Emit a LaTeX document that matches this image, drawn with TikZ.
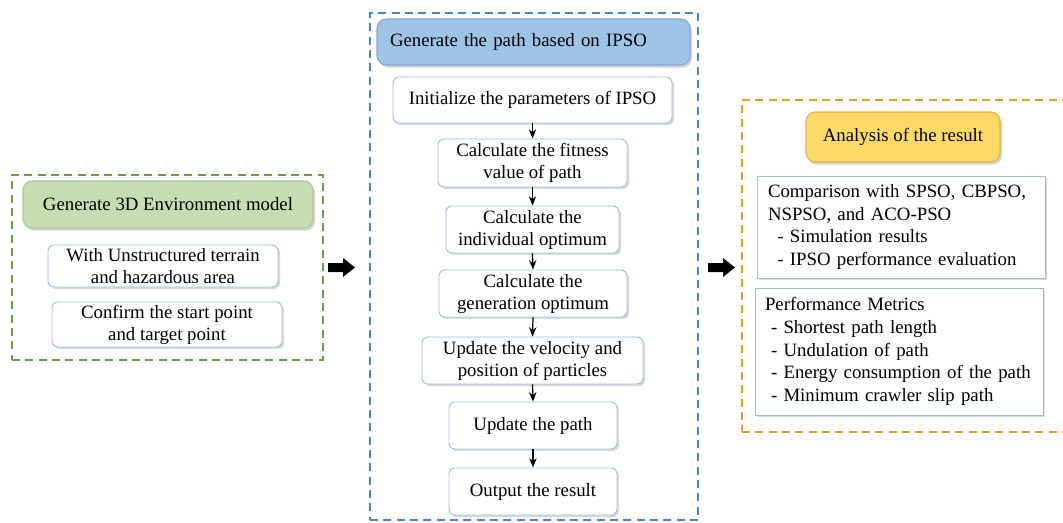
\documentclass[tikz,border=0pt]{standalone}
\usepackage{fontspec}
\setmainfont{Liberation Serif}
\usetikzlibrary{shadows,arrows.meta}

\definecolor{greenDash}{HTML}{6B9B47}
\definecolor{blueDash}{HTML}{4A86C5}
\definecolor{goldDash}{HTML}{D4A62A}
\definecolor{greenHead}{HTML}{C5DDB1}
\definecolor{greenHeadLine}{HTML}{A9C894}
\definecolor{blueHead}{HTML}{9DC3E6}
\definecolor{blueHeadLine}{HTML}{82AAD6}
\definecolor{goldHead}{HTML}{FFD966}
\definecolor{goldHeadLine}{HTML}{E2B53E}
\definecolor{boxLine}{HTML}{9DBEE0}

\begin{document}
\begin{tikzpicture}[x=0.75pt,y=-0.75pt,
  every node/.style={font=\fontsize{14.1}{16.5}\selectfont, inner sep=0pt},
  sized/.style 2 args={minimum width=#1*0.75pt, minimum height=#2*0.75pt},
  frame/.style={draw, line width=1.5pt, dash pattern=on 6pt off 4pt},
  hdr/.style={rounded corners=7pt, line width=0.8pt,
    drop shadow={opacity=0.35, shadow xshift=1.5pt, shadow yshift=-2pt}},
  stepbox/.style={rounded corners=4.5pt, draw=boxLine, line width=0.7pt,
    fill=white, align=center,
    drop shadow={opacity=0.3, shadow xshift=1.5pt, shadow yshift=-1.5pt}},
  listbox/.style={draw=boxLine, line width=0.7pt, fill=white, align=left,
    font=\fontsize{14.1}{17}\selectfont,
    drop shadow={opacity=0.3, shadow xshift=1.5pt, shadow yshift=-1.5pt}},
  flow/.style={-{Stealth[length=7pt,width=5.5pt]}, line width=0.9pt},
  blockarrow/.style={fill=black}
]
\useasboundingbox (0,0) rectangle (1063,522);

% ---------- environment model ----------
\node[frame, draw=greenDash, sized={311}{185}] (envframe) at (167.5,267.5) {};
\node[hdr, fill=greenHead, draw=greenHeadLine, sized={290}{47}] (envhead) at (168,204.5)
  {Generate 3D Environment model};
\node[stepbox, sized={230}{42}] (terrain) at (163,266)
  {With Unstructured terrain\\and hazardous area};
\node[stepbox, sized={230}{45}] (points) at (167,324.5)
  {Confirm the start point\\and target point};

% ---------- IPSO path generation ----------
\node[frame, draw=blueDash, sized={328}{507}] (ipsoframe) at (534,266.5) {};
\node[hdr, fill=blueHead, draw=blueHeadLine, sized={313}{46},
  text width=287*0.75pt, align=left] (ipsohead) at (533.5,42)
  {Generate the path based on IPSO};
\node[stepbox, sized={279}{46}] (init)    at (532.5,100)   {Initialize the parameters of IPSO};
\node[stepbox, sized={189}{48}] (fitness) at (532.5,163)   {Calculate the fitness\\value of path};
\node[stepbox, sized={173}{47}] (indiv)   at (532.5,229.5) {Calculate the\\individual optimum};
\node[stepbox, sized={188}{47}] (gener)   at (533,293.5)   {Calculate the\\generation optimum};
\node[stepbox, sized={221}{47}] (veloc)   at (532.5,360.5) {Update the velocity and\\position of particles};
\node[stepbox, sized={168}{47}] (upath)   at (533,425.5)   {Update the path};
\node[stepbox, sized={168}{47}] (output)  at (533,491.5)   {Output the result};

\draw[flow] (init.south) -- (fitness.north);
\draw[flow] (fitness.south) -- (indiv.north);
\draw[flow] (indiv.south) -- (gener.north);
\draw[flow] (gener.south) -- (veloc.north);
\draw[flow] (veloc.south) -- (upath.north);
\draw[flow] (upath.south) -- (output.north);

% ---------- analysis ----------
\node[frame, draw=goldDash, sized={338}{332}] (resframe) at (911,266) {};
\node[hdr, fill=goldHead, draw=goldHeadLine, sized={194}{50}] (reshead) at (903,137)
  {Analysis of the result};
\node[listbox, sized={288}{102}, text width=266*0.75pt] (compare) at (901,227)
  {Comparison with SPSO, CBPSO,\\NSPSO, and ACO-PSO\\
   \hspace*{7pt}- Simulation results\\
   \hspace*{7pt}- IPSO performance evaluation};
\node[listbox, sized={288}{127}, text width=268*0.75pt] (metrics) at (899,351.5)
  {Performance Metrics\\
   \hspace*{4.5pt}- Shortest path length\\
   \hspace*{4.5pt}- Undulation of path\\
   \hspace*{4.5pt}- Energy consumption of the path\\
   \hspace*{4.5pt}- Minimum crawler slip path};

% ---------- block arrows between the stages ----------
\coordinate (arrA) at (328,267.5);
\coordinate (arrB) at (708,267.5);
\foreach \a in {arrA,arrB}
  \fill[blockarrow] (\a) ++(0,-4.5) -- ++(15,0) -- ++(0,-5) -- ++(12,9.5)
    -- ++(-12,9.5) -- ++(0,-5) -- ++(-15,0) -- cycle;
\end{tikzpicture}
\end{document}
